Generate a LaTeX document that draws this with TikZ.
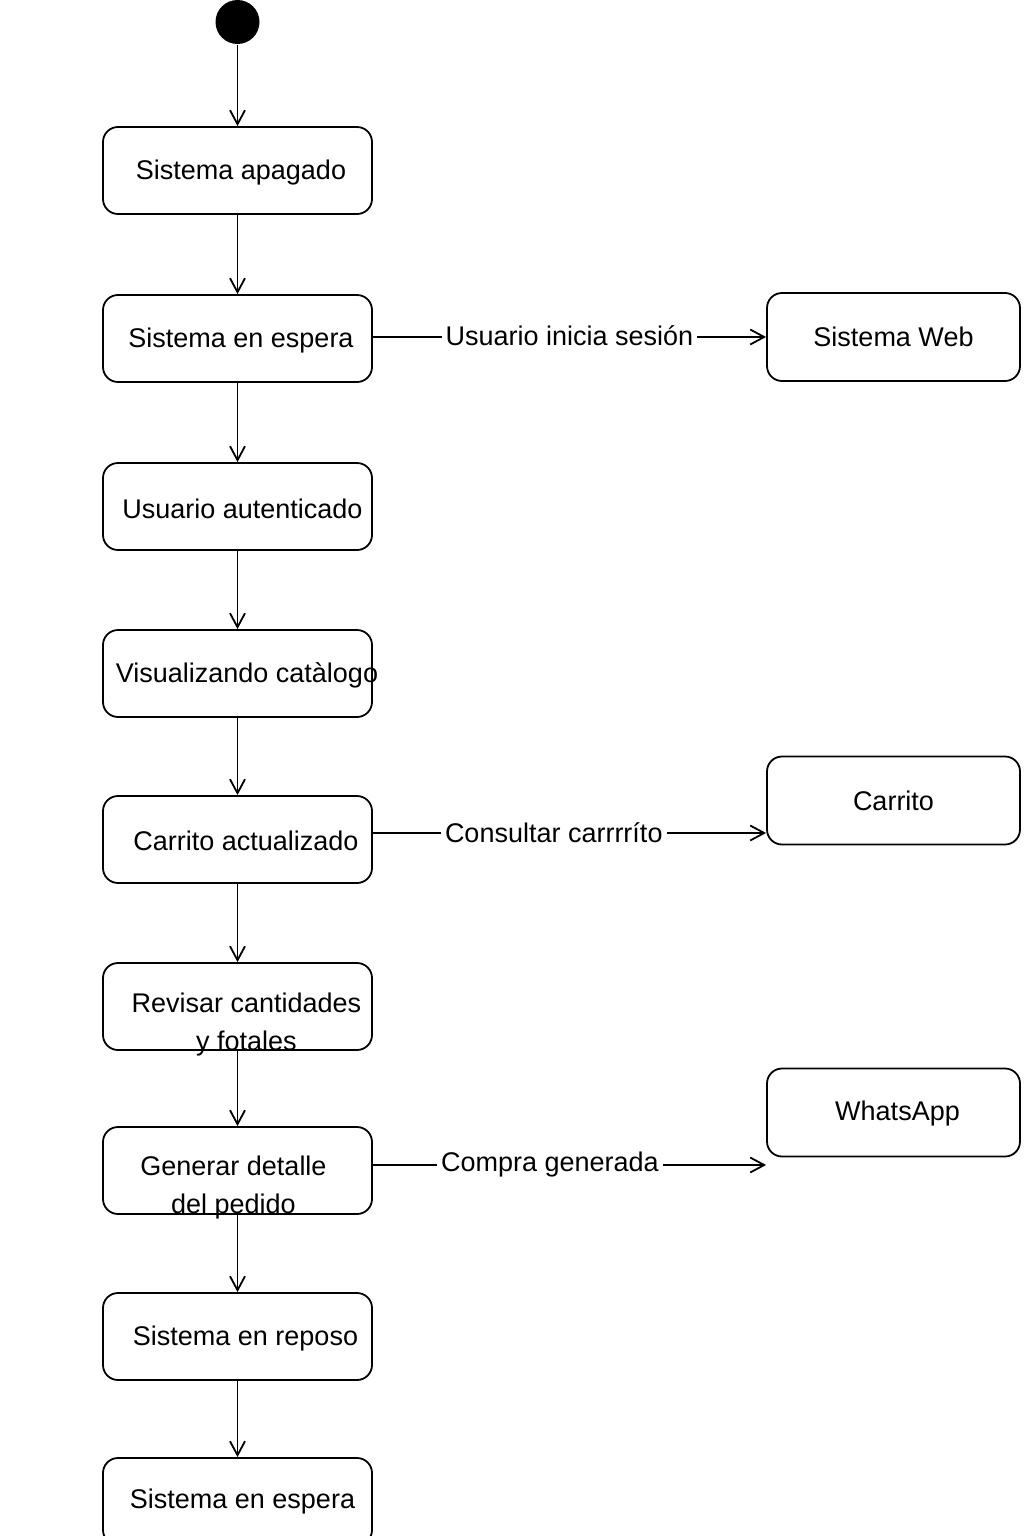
\documentclass[tikz,border=0pt]{standalone}
\usepackage{fontspec}
\setmainfont{Liberation Sans}
\usetikzlibrary{arrows.meta,positioning}

\begin{document}
\begin{tikzpicture}[x=1pt, y=-1pt, line width=1.8pt,
  >={Straight Barb[length=14pt,width=15pt,line width=1.8pt]},
  font=\fontsize{27}{38}\selectfont]
  \tikzset{
    state/.style={draw, rounded corners=15pt, minimum width=269pt, minimum height=87pt, inner sep=0pt},
    ext/.style={draw, rounded corners=15pt, minimum width=253pt, minimum height=88pt, inner sep=0pt},
    txt/.style={align=center, inner sep=0pt},
    evt/.style={fill=white, inner sep=4pt}
  }
  \useasboundingbox (0,0) rectangle (1024,1536);
  \fill[white] (0,0) rectangle (1024,1536);

  %% Initial state
  \node[circle, fill=black, minimum size=44pt, inner sep=0pt] (ini) at (237.5,22) {};

  %% Main chain of states: name / y / text dx / text dy / text
  \foreach \nm/\y/\dx/\dy/\txt in {
    s1/170.5/3.5/2/{Sistema apagado},
    s2/338.5/3.5/2/{Sistema en espera},
    s3/506.5/5/2/{Usuario autenticado},
    s4/673.5/9.5/2/{Visualizando catàlogo},
    s5/839.5/8.5/1/{Carrito actualizado},
    s6/1006.5/9/18/{Revisar cantidades\\y fotales},
    s7/1170.5/-4/17/{Generar detalle\\del pedido},
    s8/1336.5/8/2/{Sistema en reposo},
    s9/1501.5/5/0/{Sistema en espera}}{
    \node[state] (\nm) at (237.5,\y) {};
    \node[txt] (\nm-txt) at (237.5+\dx,\y+\dy) {\txt};
  }

  %% Outside states
  \node[ext] (w1) at (893.5,337) {Sistema Web};
  \node[ext] (w2) at (893.5,800.5) {Carrito};
  \node[ext] (w3) at (893.5,1112.5) {};
  \node[txt] (w3-txt) at (897.5,1113.5) {WhatsApp};

  %% Transitions down the chain
  \foreach \a/\b in {ini/s1, s1/s2, s2/s3, s3/s4, s4/s5, s5/s6, s6/s7, s7/s8, s8/s9}{
    \draw[->] (\a.south) -- (\a.south |- \b.north);
  }

  %% Transitions to the side
  \draw[->] ([yshift=1.5pt]s2.east) coordinate (c0) -- (c0 -| w1.west)
    node[evt, pos=0.5, yshift=1pt] {Usuario inicia sesión};
  \draw[->] ([yshift=6.5pt]s5.east) coordinate (c1) -- (c1 -| w2.west)
    node[evt, pos=0.46] {Consultar carrrríto};
  \draw[->] ([yshift=5.5pt]s7.east) coordinate (c2) -- (c2 -| w3.west)
    node[evt, pos=0.45] {Compra generada};
\end{tikzpicture}
\end{document}
